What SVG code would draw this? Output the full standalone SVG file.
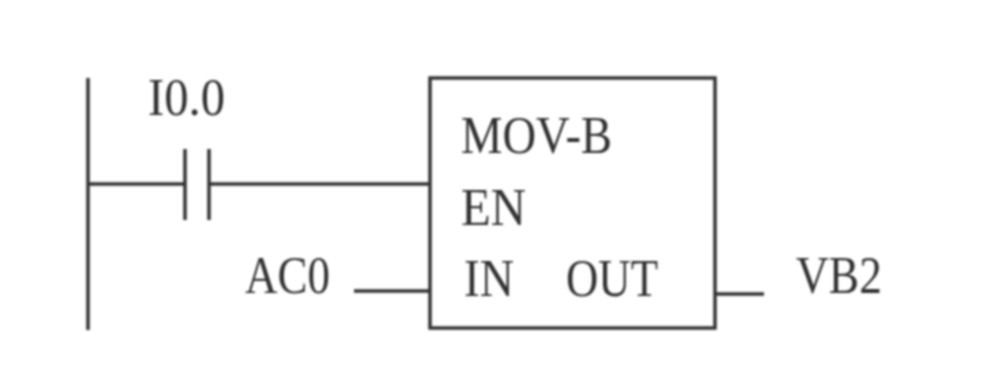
<svg xmlns="http://www.w3.org/2000/svg" width="996" height="372" viewBox="0 0 996 372">
<defs><filter id="soft" x="-2%" y="-2%" width="104%" height="104%"><feGaussianBlur stdDeviation="0.8"/></filter></defs>
<style>
.l{stroke:#333;stroke-width:3.5;fill:none}
text{font-family:"Liberation Serif",serif;font-size:53px;fill:#333}
</style>
<rect width="996" height="372" fill="#fff"/>
<g filter="url(#soft)">
<g id="connectors">
<path class="l" d="M88 78V330"/>
<path class="l" d="M88 184H185"/>
<path class="l" d="M185 149V220"/>
<path class="l" d="M209 149V220"/>
<path class="l" d="M209 184H430"/>
<path class="l" d="M354 291H430"/>
<path class="l" d="M715 294H764"/>
</g>
<g id="contact"><text x="148" y="115" textLength="77" lengthAdjust="spacingAndGlyphs">I0.0</text></g>
<g id="block">
<rect class="l" x="430" y="78" width="285" height="250"/>
<text x="461" y="153" textLength="151" lengthAdjust="spacingAndGlyphs">MOV-B</text>
<text x="461" y="225" textLength="65" lengthAdjust="spacingAndGlyphs">EN</text>
<text x="464" y="296" textLength="50" lengthAdjust="spacingAndGlyphs">IN</text>
<text x="566" y="296" textLength="92" lengthAdjust="spacingAndGlyphs">OUT</text>
</g>
<g id="ac0"><text x="245" y="293" textLength="85" lengthAdjust="spacingAndGlyphs">AC0</text></g>
<g id="vb2"><text x="796" y="293" textLength="86" lengthAdjust="spacingAndGlyphs">VB2</text></g>
</g>
</svg>
